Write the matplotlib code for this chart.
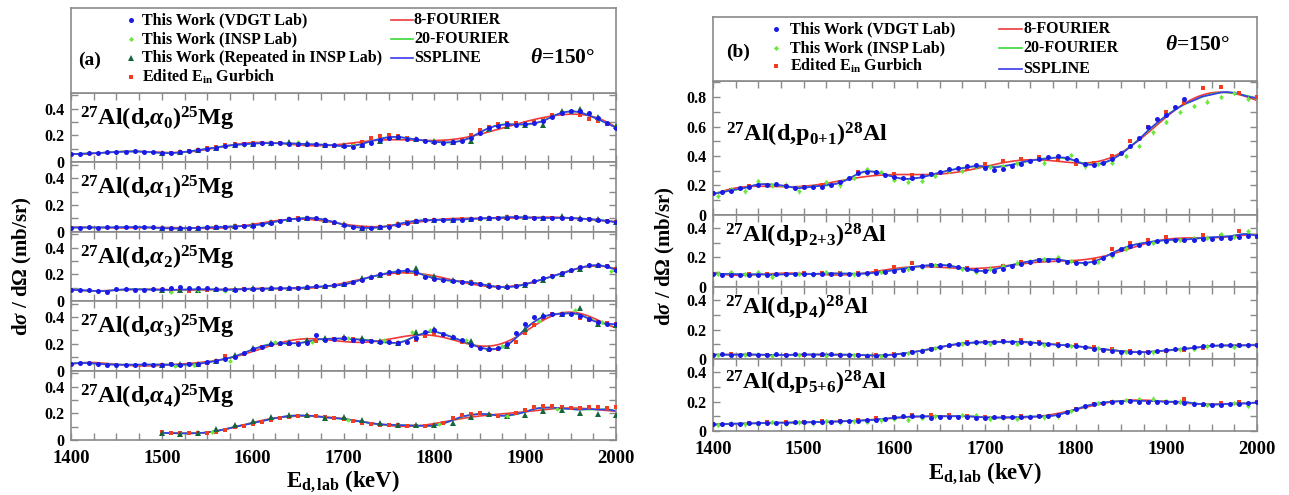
import numpy as np
import matplotlib
matplotlib.use("Agg")
import matplotlib.pyplot as plt
from matplotlib.ticker import MultipleLocator, FuncFormatter
from matplotlib.lines import Line2D

# ---------------------------------------------------------------- data
# (a) 27Al(d,alpha_i)25Mg, theta = 150 deg
E_A_VDGT = list(range(1400, 2001, 10))
E_A_GURB = list(range(1500, 2001, 10))
E_A_REP = list(range(1500, 2001, 20))

A0_VDGT = [0.060, 0.062, 0.066, 0.069, 0.073, 0.077, 0.079, 0.080, 0.079, 0.077,
           0.072, 0.069, 0.073, 0.080, 0.089, 0.099, 0.109, 0.121, 0.127, 0.133,
           0.138, 0.140, 0.143, 0.145, 0.139, 0.138, 0.134, 0.136, 0.130, 0.128,
           0.121, 0.113, 0.127, 0.140, 0.167, 0.180, 0.185, 0.171, 0.170, 0.158,
           0.151, 0.145, 0.150, 0.158, 0.180, 0.220, 0.255, 0.272, 0.283, 0.281,
           0.286, 0.292, 0.310, 0.340, 0.368, 0.382, 0.380, 0.366, 0.332, 0.292, 0.252]
A0_GURB = [0.062, 0.066, 0.075, 0.082, 0.094, 0.104, 0.115, 0.125, 0.134, 0.138,
           0.143, 0.145, 0.142, 0.140, 0.136, 0.131, 0.128, 0.130, 0.127, 0.122,
           0.118, 0.125, 0.150, 0.180, 0.198, 0.200, 0.195, 0.183, 0.168, 0.158,
           0.150, 0.148, 0.152, 0.165, 0.200, 0.240, 0.265, 0.285, 0.290, 0.292,
           0.290, 0.298, 0.320, 0.350, 0.365, 0.375, 0.355, 0.320, 0.305, 0.285, 0.258]
A0_INSP_E = [1530, 1560, 1590, 1620, 1650, 1680, 1710, 1740, 1770, 1800, 1830, 1860, 1890, 1920, 1950, 1980]
A0_INSP = [0.080, 0.105, 0.130, 0.138, 0.148, 0.132, 0.128, 0.165, 0.178, 0.155,
           0.160, 0.245, 0.275, 0.315, 0.375, 0.320]
A0_REP = [0.070, 0.074, 0.088, 0.108, 0.125, 0.138, 0.142, 0.148, 0.140, 0.130,
          0.125, 0.128, 0.160, 0.190, 0.175, 0.160, 0.150, 0.160, 0.250, 0.270,
          0.275, 0.280, 0.380, 0.400, 0.340, 0.270]

A1_VDGT = [0.030, 0.030, 0.031, 0.030, 0.032, 0.033, 0.033, 0.034, 0.033, 0.032,
           0.028, 0.027, 0.025, 0.026, 0.030, 0.032, 0.034, 0.036, 0.038, 0.040,
           0.045, 0.055, 0.068, 0.080, 0.092, 0.098, 0.100, 0.102, 0.090, 0.070,
           0.052, 0.038, 0.030, 0.028, 0.032, 0.038, 0.052, 0.068, 0.080, 0.085,
           0.085, 0.086, 0.088, 0.090, 0.095, 0.100, 0.102, 0.104, 0.105, 0.106,
           0.106, 0.104, 0.103, 0.102, 0.101, 0.100, 0.098, 0.095, 0.088, 0.080, 0.072]
A1_GURB = [0.022, 0.020, 0.020, 0.022, 0.025, 0.030, 0.034, 0.037, 0.040, 0.042,
           0.048, 0.058, 0.070, 0.083, 0.092, 0.100, 0.102, 0.098, 0.085, 0.065,
           0.048, 0.035, 0.028, 0.027, 0.033, 0.042, 0.058, 0.072, 0.082, 0.086,
           0.087, 0.088, 0.090, 0.092, 0.096, 0.098, 0.102, 0.104, 0.110, 0.108,
           0.106, 0.104, 0.102, 0.100, 0.100, 0.098, 0.096, 0.094, 0.086, 0.078, 0.070]
A1_INSP_E = [1530, 1570, 1610, 1650, 1690, 1730, 1770, 1810, 1850, 1890, 1930, 1970]
A1_INSP = [0.030, 0.036, 0.050, 0.095, 0.075, 0.030, 0.075, 0.086, 0.098, 0.110, 0.102, 0.095]
A1_REP = [0.028, 0.025, 0.028, 0.034, 0.040, 0.046, 0.070, 0.092, 0.100, 0.090,
          0.055, 0.030, 0.035, 0.060, 0.082, 0.088, 0.090, 0.092, 0.100, 0.112,
          0.108, 0.103, 0.115, 0.100, 0.095, 0.072]

A2_VDGT = [0.085, 0.083, 0.080, 0.075, 0.070, 0.088, 0.090, 0.086, 0.085, 0.088,
           0.092, 0.100, 0.102, 0.098, 0.095, 0.100, 0.092, 0.088, 0.085, 0.090,
           0.092, 0.094, 0.096, 0.095, 0.098, 0.100, 0.104, 0.110, 0.115, 0.118,
           0.125, 0.140, 0.160, 0.180, 0.200, 0.215, 0.222, 0.235, 0.215, 0.180,
           0.165, 0.155, 0.150, 0.145, 0.138, 0.125, 0.112, 0.104, 0.102, 0.112,
           0.130, 0.150, 0.172, 0.190, 0.210, 0.235, 0.255, 0.268, 0.272, 0.262, 0.235]
A2_GURB = [0.075, 0.078, 0.076, 0.078, 0.080, 0.082, 0.083, 0.085, 0.086, 0.088,
           0.090, 0.090, 0.090, 0.092, 0.094, 0.096, 0.100, 0.104, 0.108, 0.112,
           0.120, 0.135, 0.155, 0.175, 0.195, 0.205, 0.212, 0.215, 0.200, 0.180,
           0.165, 0.158, 0.150, 0.145, 0.140, 0.130, 0.118, 0.108, 0.105, 0.112,
           0.125, 0.140, 0.165, 0.185, 0.205, 0.225, 0.248, 0.262, 0.265, 0.262, 0.240]
A2_INSP_E = [1510, 1540, 1570, 1610, 1650, 1690, 1730, 1770, 1810, 1850, 1890, 1930, 1970, 1995]
A2_INSP = [0.070, 0.085, 0.075, 0.090, 0.098, 0.115, 0.190, 0.235, 0.160, 0.125,
           0.110, 0.180, 0.262, 0.225]
A2_REP = [0.085, 0.080, 0.085, 0.088, 0.092, 0.095, 0.098, 0.100, 0.102, 0.112,
          0.125, 0.175, 0.195, 0.225, 0.245, 0.190, 0.160, 0.145, 0.120, 0.110,
          0.120, 0.160, 0.200, 0.240, 0.272, 0.240]

A3_VDGT = [0.050, 0.058, 0.056, 0.050, 0.045, 0.042, 0.045, 0.044, 0.046, 0.045,
           0.044, 0.046, 0.045, 0.047, 0.050, 0.062, 0.072, 0.085, 0.105, 0.130,
           0.160, 0.178, 0.195, 0.205, 0.208, 0.200, 0.205, 0.265, 0.225, 0.235,
           0.240, 0.232, 0.222, 0.218, 0.215, 0.210, 0.205, 0.212, 0.240, 0.292,
           0.300, 0.270, 0.250, 0.225, 0.190, 0.170, 0.160, 0.170, 0.200, 0.280,
           0.345, 0.400, 0.410, 0.420, 0.425, 0.420, 0.405, 0.385, 0.365, 0.352, 0.345]
A3_GURB = [0.045, 0.046, 0.045, 0.048, 0.052, 0.060, 0.072, 0.110, 0.100, 0.125,
           0.155, 0.175, 0.190, 0.198, 0.200, 0.205, 0.210, 0.220, 0.230, 0.238,
           0.240, 0.235, 0.228, 0.222, 0.215, 0.210, 0.208, 0.212, 0.230, 0.260,
           0.275, 0.265, 0.245, 0.215, 0.190, 0.168, 0.155, 0.158, 0.175, 0.210,
           0.280, 0.340, 0.395, 0.420, 0.425, 0.420, 0.395, 0.375, 0.360, 0.355, 0.350]
A3_INSP_E = [1515, 1535, 1575, 1625, 1665, 1705, 1745, 1775, 1795, 1835, 1875, 1915, 1955, 1985]
A3_INSP = [0.035, 0.038, 0.075, 0.210, 0.215, 0.240, 0.225, 0.290, 0.300, 0.225,
           0.185, 0.370, 0.450, 0.360]
A3_REP = [0.045, 0.048, 0.052, 0.070, 0.120, 0.170, 0.205, 0.210, 0.225, 0.245,
          0.250, 0.245, 0.220, 0.205, 0.290, 0.310, 0.250, 0.220, 0.170, 0.180,
          0.310, 0.415, 0.420, 0.470, 0.350, 0.340]

A4_GURB = [0.058, 0.052, 0.050, 0.050, 0.050, 0.055, 0.062, 0.075, 0.095, 0.105,
           0.120, 0.135, 0.150, 0.165, 0.175, 0.180, 0.182, 0.180, 0.170, 0.162,
           0.155, 0.142, 0.130, 0.120, 0.115, 0.112, 0.110, 0.108, 0.105, 0.103,
           0.108, 0.125, 0.165, 0.185, 0.195, 0.200, 0.190, 0.180, 0.185, 0.200,
           0.225, 0.245, 0.255, 0.252, 0.245, 0.240, 0.240, 0.250, 0.245, 0.240, 0.245]
A4_INSP_E = [1555, 1705, 1805, 1880, 1935]
A4_INSP = [0.058, 0.150, 0.118, 0.182, 0.235]
A4_REP = [0.050, 0.048, 0.055, 0.080, 0.110, 0.140, 0.170, 0.190, 0.185, 0.165,
          0.170, 0.150, 0.125, 0.115, 0.115, 0.110, 0.125, 0.170, 0.195, 0.180,
          0.185, 0.220, 0.225, 0.200, 0.195, 0.185]

# (b) 27Al(d,p_i)28Al, theta = 150 deg
E_B_VDGT = list(range(1400, 2001, 10))
E_P01_VDGT = list(range(1400, 1921, 10))
E_B_GURB = list(range(1400, 2001, 20))
E_B_INSP = list(range(1405, 2000, 15))

P01_VDGT = [0.150, 0.155, 0.165, 0.185, 0.190, 0.200, 0.205, 0.210, 0.195, 0.185,
            0.190, 0.188, 0.192, 0.200, 0.220, 0.250, 0.285, 0.290, 0.288, 0.270,
            0.255, 0.248, 0.250, 0.262, 0.280, 0.292, 0.310, 0.318, 0.330, 0.342,
            0.320, 0.305, 0.310, 0.330, 0.345, 0.368, 0.380, 0.390, 0.400, 0.385,
            0.370, 0.345, 0.338, 0.350, 0.380, 0.420, 0.470, 0.520, 0.595, 0.650,
            0.680, 0.730, 0.790]
P01_GURB = [0.150, 0.170, 0.195, 0.200, 0.195, 0.192, 0.200, 0.220, 0.290, 0.280,
            0.275, 0.268, 0.280, 0.300, 0.320, 0.345, 0.365, 0.380, 0.390, 0.370,
            0.345, 0.355, 0.400, 0.500, 0.600, 0.700, 0.760, 0.860, 0.870, 0.830, 0.800]
P01_INSP = [0.130, 0.175, 0.160, 0.230, 0.200, 0.205, 0.160, 0.195, 0.225, 0.200,
            0.250, 0.310, 0.290, 0.240, 0.225, 0.230, 0.265, 0.300, 0.300, 0.330,
            0.325, 0.330, 0.350, 0.365, 0.355, 0.400, 0.405, 0.330, 0.345, 0.355,
            0.400, 0.470, 0.560, 0.630, 0.700, 0.740, 0.770, 0.800, 0.830, 0.790]

P23_VDGT = [0.085, 0.082, 0.084, 0.080, 0.078, 0.083, 0.080, 0.085, 0.087, 0.086,
            0.088, 0.087, 0.089, 0.088, 0.090, 0.088, 0.090, 0.092, 0.095, 0.100,
            0.108, 0.118, 0.128, 0.140, 0.150, 0.152, 0.148, 0.138, 0.125, 0.112,
            0.105, 0.110, 0.125, 0.140, 0.158, 0.172, 0.182, 0.185, 0.182, 0.172,
            0.165, 0.162, 0.170, 0.195, 0.225, 0.255, 0.275, 0.285, 0.298, 0.310,
            0.315, 0.318, 0.320, 0.322, 0.325, 0.328, 0.330, 0.335, 0.340, 0.345, 0.348]
P23_GURB = [0.085, 0.088, 0.086, 0.088, 0.090, 0.092, 0.094, 0.092, 0.095, 0.105,
            0.135, 0.160, 0.150, 0.140, 0.130, 0.110, 0.140, 0.170, 0.185, 0.180,
            0.170, 0.185, 0.260, 0.300, 0.320, 0.340, 0.320, 0.350, 0.345, 0.380, 0.340]
P23_INSP = [0.090, 0.100, 0.085, 0.100, 0.070, 0.085, 0.090, 0.080, 0.100, 0.092,
            0.085, 0.085, 0.100, 0.110, 0.120, 0.135, 0.150, 0.140, 0.120, 0.100,
            0.125, 0.145, 0.165, 0.175, 0.190, 0.200, 0.175, 0.160, 0.170, 0.210,
            0.260, 0.290, 0.300, 0.310, 0.320, 0.330, 0.335, 0.360, 0.340, 0.380]

P4_VDGT = [0.030, 0.031, 0.030, 0.029, 0.031, 0.030, 0.029, 0.031, 0.030, 0.032,
           0.031, 0.030, 0.032, 0.031, 0.029, 0.030, 0.028, 0.020, 0.022, 0.025,
           0.030, 0.036, 0.045, 0.055, 0.068, 0.080, 0.092, 0.102, 0.108, 0.112,
           0.115, 0.118, 0.120, 0.118, 0.115, 0.110, 0.106, 0.100, 0.096, 0.092,
           0.085, 0.078, 0.070, 0.062, 0.055, 0.050, 0.047, 0.046, 0.050, 0.056,
           0.062, 0.068, 0.074, 0.080, 0.088, 0.092, 0.094, 0.095, 0.094, 0.094, 0.095]
P4_GURB = [0.030, 0.031, 0.032, 0.030, 0.025, 0.030, 0.028, 0.030, 0.030, 0.028,
           0.032, 0.045, 0.065, 0.090, 0.112, 0.118, 0.120, 0.128, 0.118, 0.105,
           0.095, 0.080, 0.070, 0.055, 0.050, 0.052, 0.062, 0.075, 0.090, 0.095, 0.095]
P4_INSP = [0.025, 0.025, 0.030, 0.028, 0.020, 0.025, 0.025, 0.030, 0.022, 0.030,
           0.025, 0.028, 0.020, 0.030, 0.040, 0.060, 0.075, 0.095, 0.105, 0.110,
           0.100, 0.115, 0.105, 0.112, 0.095, 0.090, 0.088, 0.080, 0.072, 0.060,
           0.048, 0.040, 0.045, 0.058, 0.065, 0.070, 0.085, 0.090, 0.080, 0.092]

P56_VDGT = [0.045, 0.046, 0.048, 0.050, 0.052, 0.054, 0.055, 0.056, 0.057, 0.058,
            0.060, 0.061, 0.062, 0.064, 0.066, 0.068, 0.070, 0.074, 0.078, 0.085,
            0.094, 0.102, 0.105, 0.104, 0.090, 0.098, 0.096, 0.092, 0.095, 0.088,
            0.088, 0.092, 0.095, 0.096, 0.097, 0.098, 0.100, 0.104, 0.112, 0.128,
            0.148, 0.168, 0.182, 0.192, 0.198, 0.200, 0.201, 0.200, 0.198, 0.196,
            0.195, 0.194, 0.190, 0.185, 0.182, 0.180, 0.180, 0.182, 0.186, 0.192, 0.198]
P56_GURB = [0.045, 0.050, 0.055, 0.058, 0.060, 0.062, 0.065, 0.070, 0.078, 0.088,
            0.098, 0.108, 0.112, 0.110, 0.102, 0.098, 0.098, 0.100, 0.105, 0.112,
            0.150, 0.185, 0.200, 0.205, 0.200, 0.195, 0.215, 0.180, 0.190, 0.195, 0.200]
P56_INSP = [0.040, 0.055, 0.045, 0.048, 0.060, 0.050, 0.058, 0.052, 0.065, 0.058,
            0.066, 0.062, 0.072, 0.080, 0.078, 0.088, 0.100, 0.098, 0.110, 0.108,
            0.085, 0.090, 0.085, 0.098, 0.092, 0.100, 0.135, 0.165, 0.190, 0.200,
            0.210, 0.215, 0.220, 0.205, 0.200, 0.190, 0.175, 0.178, 0.190, 0.170]

LABELS_A = [r"$^{27}$Al(d,$\alpha_{0}$)$^{25}$Mg", r"$^{27}$Al(d,$\alpha_{1}$)$^{25}$Mg",
            r"$^{27}$Al(d,$\alpha_{2}$)$^{25}$Mg", r"$^{27}$Al(d,$\alpha_{3}$)$^{25}$Mg",
            r"$^{27}$Al(d,$\alpha_{4}$)$^{25}$Mg"]
LABELS_B = [r"$^{27}$Al(d,p$_{0{+}1}$)$^{28}$Al", r"$^{27}$Al(d,p$_{2{+}3}$)$^{28}$Al",
            r"$^{27}$Al(d,p$_{4}$)$^{28}$Al", r"$^{27}$Al(d,p$_{5{+}6}$)$^{28}$Al"]

# ---------------------------------------------------------------- style
plt.rcParams.update({
    "font.family": "Liberation Serif",
    "font.weight": "bold",
    "mathtext.fontset": "custom",
    "mathtext.rm": "Liberation Serif:bold",
    "mathtext.it": "Liberation Serif:italic:bold",
    "mathtext.bf": "Liberation Serif:bold",
    "mathtext.sf": "Liberation Serif:bold",
})

C_VDGT = "#1a1ae6"
C_INSP = "#6ae83a"
C_REP = "#17653a"
C_GURB = "#f03c20"
C_F8 = "#ee3a3a"
C_F20 = "#3ad83a"
C_SS = "#3a3aee"
SPINE = "#8a8a8a"

W, H = 1289, 495
fig = plt.figure(figsize=(W / 100, H / 100), dpi=100)


def fourier_curve(x, y, n_terms, grid):
    x0 = x.min()
    w = 2 * np.pi / (2.0 * (x.max() - x0))

    def basis(t):
        u = (t - x0) * w
        cols = [np.ones_like(u)]
        for k in range(1, n_terms + 1):
            cols += [np.cos(k * u), np.sin(k * u)]
        return np.column_stack(cols)

    A = basis(x)
    lam = 1e-3 * len(x)
    coef = np.linalg.solve(A.T @ A + lam * np.eye(A.shape[1]), A.T @ y)
    return basis(grid) @ coef


def smoothing_spline(x, y, grid, lam=40.0):
    n = len(grid)
    h = grid[1] - grid[0]
    idx = np.clip(((x - grid[0]) / h).astype(int), 0, n - 2)
    frac = (x - grid[idx]) / h
    Wm = np.zeros((len(x), n))
    r = np.arange(len(x))
    Wm[r, idx] = 1 - frac
    Wm[r, idx + 1] = frac
    D = np.diff(np.eye(n), 2, axis=0)
    return np.linalg.solve(Wm.T @ Wm + lam * D.T @ D, Wm.T @ y)


def style_axis(ax, ymax, bottom):
    ax.set_xlim(1400, 2000)
    ax.set_ylim(0, ymax)
    ax.xaxis.set_major_locator(MultipleLocator(100))
    ax.xaxis.set_minor_locator(MultipleLocator(25))
    ax.yaxis.set_major_locator(MultipleLocator(0.2))
    ax.yaxis.set_minor_locator(MultipleLocator(0.1))
    ax.yaxis.set_major_formatter(FuncFormatter(lambda v, p: "0" if abs(v) < 1e-9 else f"{v:.1f}"))
    ax.tick_params(which="both", direction="in", top=True, right=True, length=5,
                   width=1.0, color=SPINE, labelsize=11.5, pad=5)
    ax.tick_params(axis="x", labelbottom=bottom, labelsize=13.5, pad=7)
    for s in ax.spines.values():
        s.set_color(SPINE)
        s.set_linewidth(1.2)


def draw_panel(ax, series, label, ymax, bottom, label_off, ierr):
    xs, ys = [], []
    for E, Y in series.values():
        xs += list(E)
        ys += list(Y)
    xs = np.asarray(xs, float)
    ys = np.asarray(ys, float)
    grid = np.linspace(xs.min(), xs.max(), 301)
    ax.plot(grid, fourier_curve(xs, ys, 8, grid), color=C_F8, lw=1.2, zorder=2)
    ax.plot(grid, fourier_curve(xs, ys, 20, grid), color=C_F20, lw=1.2, zorder=2)
    ax.plot(grid, smoothing_spline(xs, ys, grid), color=C_SS, lw=1.2, zorder=2)
    if "gurb" in series:
        E, Y = series["gurb"]
        ax.plot(E, Y, "s", ms=2.8, mew=0, color=C_GURB, zorder=3)
    if "insp" in series:
        E, Y = series["insp"]
        ax.errorbar(E, Y, yerr=ierr, fmt="D", ms=2.4, mew=0, color=C_INSP,
                    elinewidth=1.0, capsize=0, zorder=3)
    if "rep" in series:
        E, Y = series["rep"]
        ax.plot(E, Y, "^", ms=4.2, mew=0, color=C_REP, zorder=3)
    if "vdgt" in series:
        E, Y = series["vdgt"]
        ax.plot(E, Y, "o", ms=3.6, mew=0, color=C_VDGT, zorder=4)
    style_axis(ax, ymax, bottom)
    ax.annotate(label, xy=(0, 1), xycoords="axes fraction", xytext=label_off,
                textcoords="offset pixels", ha="left", va="center", fontsize=17.5)


# ---------------------------------------------------------------- panel (a)
LX0, LX1, LTOP, LBOT, LLEG = 71, 616, 92.7, 440, 8
panels_a = [
    {"vdgt": (E_A_VDGT, A0_VDGT), "gurb": (E_A_GURB, A0_GURB), "insp": (A0_INSP_E, A0_INSP), "rep": (E_A_REP, A0_REP)},
    {"vdgt": (E_A_VDGT, A1_VDGT), "gurb": (E_A_GURB, A1_GURB), "insp": (A1_INSP_E, A1_INSP), "rep": (E_A_REP, A1_REP)},
    {"vdgt": (E_A_VDGT, A2_VDGT), "gurb": (E_A_GURB, A2_GURB), "insp": (A2_INSP_E, A2_INSP), "rep": (E_A_REP, A2_REP)},
    {"vdgt": (E_A_VDGT, A3_VDGT), "gurb": (E_A_GURB, A3_GURB), "insp": (A3_INSP_E, A3_INSP), "rep": (E_A_REP, A3_REP)},
    {"gurb": (E_A_GURB, A4_GURB), "insp": (A4_INSP_E, A4_INSP), "rep": (E_A_REP, A4_REP)},
]
ph = (LBOT - LTOP) / len(panels_a)
for i, (ser, lab) in enumerate(zip(panels_a, LABELS_A)):
    top = LTOP + i * ph
    ax = fig.add_axes([LX0 / W, 1 - (top + ph) / H, (LX1 - LX0) / W, ph / H])
    draw_panel(ax, ser, lab, 0.52, i == len(panels_a) - 1, (9, -26), 0.008)

# ---------------------------------------------------------------- panel (b)
RX0, RX1, RTOP, RBOT, RLEG = 713, 1257, 81, 431, 17
ymax_b = [0.91, 0.49, 0.49, 0.49]
panels_b = [
    {"vdgt": (E_P01_VDGT, P01_VDGT), "gurb": (E_B_GURB, P01_GURB), "insp": (E_B_INSP, P01_INSP)},
    {"vdgt": (E_B_VDGT, P23_VDGT), "gurb": (E_B_GURB, P23_GURB), "insp": (E_B_INSP, P23_INSP)},
    {"vdgt": (E_B_VDGT, P4_VDGT), "gurb": (E_B_GURB, P4_GURB), "insp": (E_B_INSP, P4_INSP)},
    {"vdgt": (E_B_VDGT, P56_VDGT), "gurb": (E_B_GURB, P56_GURB), "insp": (E_B_INSP, P56_INSP)},
]
label_offs_b = [(13, -54), (12, -21), (12, -21), (12, -24)]
ppu = (RBOT - RTOP) / sum(ymax_b)
top = RTOP
for i, (ser, lab) in enumerate(zip(panels_b, LABELS_B)):
    h = ymax_b[i] * ppu
    ax = fig.add_axes([RX0 / W, 1 - (top + h) / H, (RX1 - RX0) / W, h / H])
    draw_panel(ax, ser, lab, ymax_b[i], i == len(panels_b) - 1, label_offs_b[i], 0.015)
    top += h


# ---------------------------------------------------------------- legends
def legend_box(x0, x1, ytop, ybot):
    lax = fig.add_axes([x0 / W, 1 - ybot / H, (x1 - x0) / W, (ybot - ytop) / H])
    lax.set_xticks([])
    lax.set_yticks([])
    for s in lax.spines.values():
        s.set_color(SPINE)
        s.set_linewidth(1.2)
    return lax


def fig_marker(x, y, **kw):
    fig.add_artist(Line2D([x / W], [1 - y / H], transform=fig.transFigure, ls="none", **kw))


def fig_line(x0, x1, y, color):
    fig.add_artist(Line2D([x0 / W, x1 / W], [1 - y / H, 1 - y / H], transform=fig.transFigure,
                          color=color, lw=1.2))


def fig_text(x, y, s, size, **kw):
    fig.text(x / W, 1 - y / H, s, fontsize=size, ha="left", va="center", **kw)


point_styles = {
    "vdgt": dict(marker="o", ms=3.6, mew=0, color=C_VDGT),
    "insp": dict(marker="D", ms=2.6, mew=0, color=C_INSP),
    "rep": dict(marker="^", ms=4.2, mew=0, color=C_REP),
    "gurb": dict(marker="s", ms=2.8, mew=0, color=C_GURB),
}
point_names = {
    "vdgt": "This Work (VDGT Lab)",
    "insp": "This Work (INSP Lab)",
    "rep": "This Work (Repeated in INSP Lab)",
    "gurb": r"Edited E$_{\mathrm{in}}$ Gurbich",
}
line_entries = [("8-FOURIER", C_F8), ("20-FOURIER", C_F20), ("SSPLINE", C_SS)]

legend_box(LX0, LX1, LLEG, LTOP)
for key, y in zip(["vdgt", "insp", "rep", "gurb"], [20, 39, 58, 77]):
    fig_marker(131, y, **point_styles[key])
    fig_text(142, y, point_names[key], 11.5)
for (name, col), y in zip(line_entries, [20, 39, 58]):
    fig_line(391, 413, y, col)
    fig_text(414, y, name, 11.5)
fig_text(78, 60, "(a)", 14)
fig_text(530, 58, r"$\theta$=150°", 15.5)

legend_box(RX0, RX1, RLEG, RTOP)
for key, y in zip(["vdgt", "insp", "gurb"], [29, 48, 66]):
    fig_marker(776, y, **point_styles[key])
    fig_text(790, y, point_names[key], 11.5)
for (name, col), y in zip(line_entries, [29, 48, 69]):
    fig_line(999, 1022, y, col)
    fig_text(1023, y, name, 11.5)
fig_text(726, 52, "(b)", 14)
fig_text(1165, 45, r"$\theta$=150°", 15.5)

# ---------------------------------------------------------------- axis titles
ylab = r"d$\sigma$ / d$\Omega$ (mb/sr)"
fig.text(22 / W, 1 - 266 / H, ylab, rotation=90, ha="center", va="center", fontsize=15)
fig.text(665 / W, 1 - 256 / H, ylab, rotation=90, ha="center", va="center", fontsize=15)
xlab = r"E$_{\mathrm{d,lab}}$ (keV)"
fig.text(343 / W, 1 - 481 / H, xlab, ha="center", va="center", fontsize=16.5)
fig.text(985 / W, 1 - 473 / H, xlab, ha="center", va="center", fontsize=16.5)

fig.savefig("out.png", dpi=100)
